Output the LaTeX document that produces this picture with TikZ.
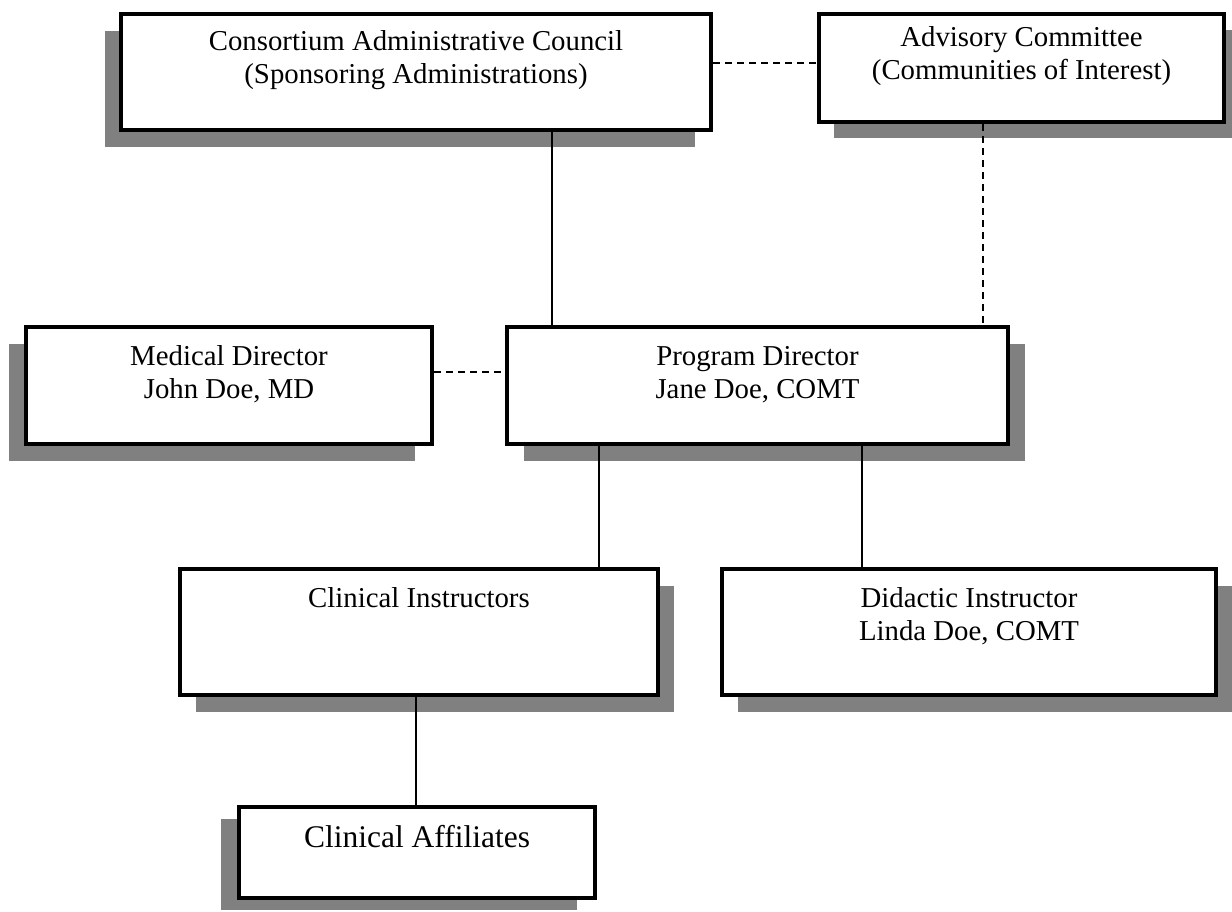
\documentclass[tikz,border=0pt]{standalone}
\usepackage{fontspec}
\setmainfont{Liberation Serif}
\usetikzlibrary{shadows}

\definecolor{shadowgray}{RGB}{128,128,128}
\newcommand{\boxlines}[4][15]{\parbox[c][#3pt][t]{#2pt}{\centering\vspace*{#1pt}\strut#4}}

\tikzset{
	orgbox/.style = {draw, line width=4pt, fill=white, inner sep=0pt, anchor=north west,
		font=\fontsize{28.8}{33}\selectfont},
	boxshadow/.style 2 args = {drop shadow={shadow xshift=#1pt, shadow yshift=-#2pt,
		fill=shadowgray, opacity=1}},
	link/.style = {line width=2pt},
	dashlink/.style = {line width=2pt, dash pattern=on 7pt off 5pt}
}

\begin{document}
\begin{tikzpicture}[x=1pt, y=-1pt]
	\useasboundingbox (0,0) rectangle (1232,911);

	\node [orgbox, boxshadow={-16}{17}] (council) at (119,12)
		{\boxlines[13]{590}{116}{Consortium Administrative Council\\(Sponsoring Administrations)}};
	\node [orgbox, boxshadow={15}{16}] (advisory) at (817,12)
		{\boxlines[9]{405}{108}{Advisory Committee\\(Communities of Interest)}};
	\node [orgbox, boxshadow={-17}{17}] (medical) at (24,325)
		{\boxlines{406}{117}{Medical Director\\John Doe, MD}};
	\node [orgbox, boxshadow={17}{17}] (program) at (505,325)
		{\boxlines{501}{117}{Program Director\\Jane Doe, COMT}};
	\node [orgbox, boxshadow={16}{17}] (instructors) at (178,567)
		{\boxlines{478}{126}{Clinical Instructors}};
	\node [orgbox, boxshadow={16}{17}] (didactic) at (720,567)
		{\boxlines{494}{126}{Didactic Instructor\\Linda Doe, COMT}};
	\node [orgbox, boxshadow={-18}{12}, font=\fontsize{31.5}{36}\selectfont] (affiliates) at (237,805)
		{\boxlines{356}{91}{Clinical Affiliates}};

	\begin{scope}[link]
		\draw (council.south -| 552,0) -- (program.north -| 552,0);
		\draw (program.south -| 599,0) -- (instructors.north -| 599,0);
		\draw (program.south -| 862,0) -- (didactic.north -| 862,0);
		\draw (instructors.south -| 416,0) -- (affiliates.north -| 416,0);
	\end{scope}

	\begin{scope}[dashlink]
		\draw (council.east |- 0,63) -- (advisory.west |- 0,63);
		\draw (advisory.south -| 983,0) -- (program.north -| 983,0);
		\draw (medical.east |- 0,372) -- (program.west |- 0,372);
	\end{scope}
\end{tikzpicture}
\end{document}
